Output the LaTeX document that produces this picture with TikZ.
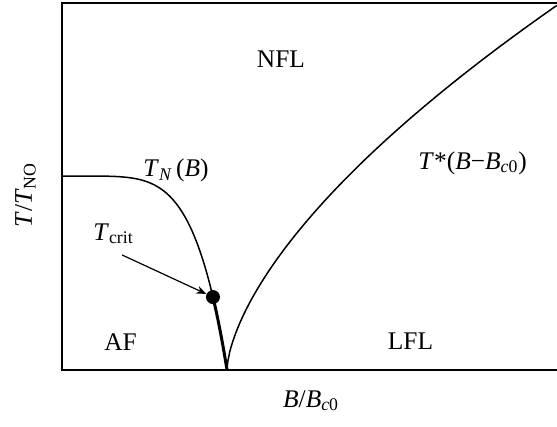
\documentclass[tikz,border=0pt]{standalone}
\usepackage{amsmath}
\usepackage{fontspec}
\setmainfont{Liberation Serif}
\usepackage{tikz}
\usetikzlibrary{arrows.meta}

\begin{document}
\begin{tikzpicture}[
    x=82.5pt, y=97pt,
    font=\fontsize{12.7}{15}\selectfont,
    frame/.style={line width=1pt},
    phase/.style={line width=0.75pt},
    firstorder/.style={line width=1.5pt},
    pointer/.style={line width=0.6pt, -{Stealth[length=5pt,width=4pt]}},
    critdot/.style={circle, fill=black, inner sep=0pt, minimum size=7pt}
]
    \useasboundingbox (-0.3758,-0.2887) rectangle (3,1.9072);

    % Frame (open on the right)
    \draw[frame] (3,1.892) -- (0,1.892) -- (0,0) -- (3,0);

    % Axis labels
    \node[anchor=base] (xlabel) at (1.51,-0.191) {\textit{B}/\textit{B}$_{\textit{c}\text{0}}$};
    \node[rotate=90, anchor=base] (ylabel) at (-0.182,0.902) {\textit{T}/\textit{T}$_{\text{NO}}$};

    % Neel line T_N(B)
    \draw[phase] (0,1) -- plot[domain=0.02:0.915, samples=80] (\x, {1-\x^5.3});
    \draw[firstorder] plot[domain=0.915:1, samples=20] (\x, {1-\x^5.3});

    % Crossover line T*(B-Bc0)
    \draw[phase] (1,0) -- plot[domain=0.01:1.4142, samples=120] ({1+\x*\x}, {1.214*\x^1.262});

    % Critical point
    \node[critdot] (crit) at (0.915,0.376) {};
    \node[anchor=base west, inner sep=0pt] (tcrit) at (0.188,0.670) {\textit{T}$_{\text{crit}}$};
    \coordinate (astart) at (0.364,0.593);
    \draw[pointer] (astart) -- (crit);

    % Line labels
    \node[anchor=base west, inner sep=0pt] (tn) at (0.491,0.995) {\textit{T}$_{\textit{N}}$\,(\textit{B})};
    \node[anchor=base west, inner sep=0pt] (tstar) at (2.158,1.036) {\textit{T}*(\textit{B}−\textit{B}$_{\textit{c}\text{0}}$)};

    % Regions
    \node[anchor=base] (nfl) at (1.327,1.557) {NFL};
    \node[anchor=base] (af) at (0.355,0.103) {AF};
    \node[anchor=base] (lfl) at (2.112,0.108) {LFL};
\end{tikzpicture}
\end{document}
